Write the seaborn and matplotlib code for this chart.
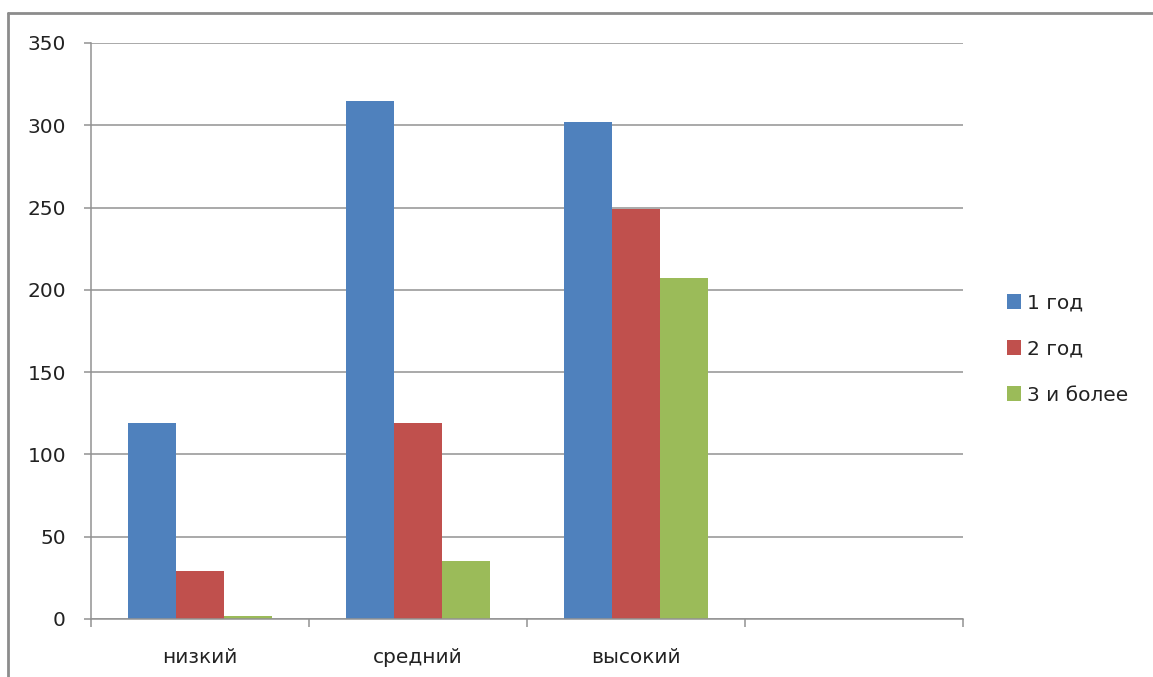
import pandas as pd
import matplotlib.pyplot as plt
import seaborn as sns
from matplotlib.patches import Patch
from matplotlib.lines import Line2D

# данные с картинки
levels = ["низкий", "средний", "высокий"]
series = ["1 год", "2 год", "3 и более"]
vals_1 = [119, 315, 302]
vals_2 = [29, 119, 249]
vals_3 = [2, 35, 207]
colors = ["#4F81BD", "#C0504D", "#9BBB59"]

df = pd.DataFrame({
    "level": levels * 3,
    "series": [series[0]] * 3 + [series[1]] * 3 + [series[2]] * 3,
    "value": vals_1 + vals_2 + vals_3,
})

sns.set_style("white")
plt.rcParams["font.family"] = ["DejaVu Sans"]

fig = plt.figure(figsize=(11.53, 6.77), dpi=100)
ax = fig.add_axes([91 / 1153, 1 - 619 / 677, (963 - 91) / 1153, (619 - 43) / 677])

order = levels + [""]
sns.barplot(data=df, x="level", y="value", hue="series", order=order,
            hue_order=series, palette=colors, width=0.66, saturation=1,
            edgecolor="none", ax=ax)

ax.set_xlim(-0.5, 3.5)
ax.set_ylim(0, 350)
ax.set_yticks(range(0, 351, 50))
ax.yaxis.grid(True, color="#929292", linewidth=1.1)
ax.set_axisbelow(True)
ax.set_xlabel("")
ax.set_ylabel("")

# границы категорий как в Excel
ax.set_xticks([-0.5, 0.5, 1.5, 2.5, 3.5])
ax.set_xticklabels([])
ax.set_xticks([0, 1, 2, 3], minor=True)
ax.set_xticklabels(order, minor=True, fontsize=14.5, color="#222222")
ax.tick_params(axis="x", which="major", length=6, width=1.1, color="#929292", direction="out", bottom=True)
ax.tick_params(axis="x", which="minor", length=0, pad=21)
ax.tick_params(axis="y", length=5, width=1.1, color="#929292", direction="out", left=True,
               labelsize=14.5, labelcolor="#222222", pad=13)

for s in ["top", "right"]:
    ax.spines[s].set_visible(False)
for s in ["left", "bottom"]:
    ax.spines[s].set_color("#929292")
    ax.spines[s].set_linewidth(1.1)

if ax.get_legend() is not None:
    ax.get_legend().remove()
handles = [Patch(facecolor=c, edgecolor="none") for c in colors]
fig.legend(handles, series, loc="center left", bbox_to_anchor=(989 / 1153, 1 - 349 / 677),
           frameon=False, fontsize=14.5, handlelength=0.7, handleheight=0.75,
           handletextpad=0.3, labelspacing=1.35, labelcolor="#222222")

# серая рамка сверху и слева
fig.add_artist(Line2D([8 / 1153, 8 / 1153], [0, 1 - 13 / 677], transform=fig.transFigure,
                      color="#8c8c8c", linewidth=2))
fig.add_artist(Line2D([8 / 1153, 1], [1 - 13 / 677, 1 - 13 / 677], transform=fig.transFigure,
                      color="#8c8c8c", linewidth=2))

fig.savefig("out.png", dpi=100)
